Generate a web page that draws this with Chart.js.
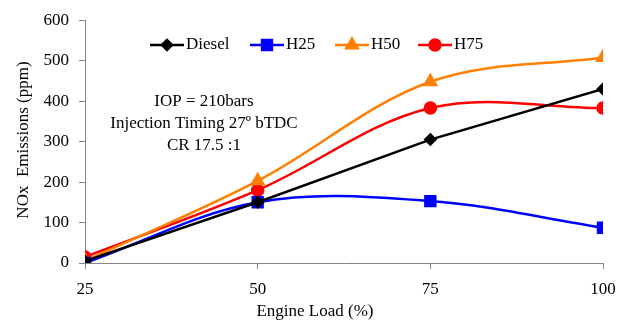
<!DOCTYPE html>
<html>
<head>
<meta charset="utf-8">
<script src="https://cdn.jsdelivr.net/npm/chart.js@4"></script>
<style>
  html, body { margin: 0; padding: 0; background: #fff; }
  #wrap { width: 623px; height: 322px; position: relative; }
</style>
</head>
<body>
<div id="wrap"><canvas id="chartNox"></canvas></div>
<script>
// ===============================
// DATA
// ===============================
const loads   = [25, 50, 75, 100];
const xTicks  = [25, 50, 75, 100];
const yTicks  = [0, 100, 200, 300, 400, 500, 600];

const diesel = [5, 150, 305, 430];
const h25    = [0, 150, 153, 87];
const h50    = [5, 203, 448, 508];
const h75    = [15, 180, 383, 383];

const noteLines = ["IOP = 210bars", "Injection Timing 27º bTDC", "CR 17.5 :1"];

const FONT = '"Liberation Serif", "Times New Roman", serif';
const FSIZE = 17;

// ===============================
// HELPERS
// ===============================
function pts(arr) {
  return loads.map((x, i) => ({ x: x, y: arr[i] }));
}

function series(label, arr, color, style, radius, tension) {
  return {
    label: label,
    data: pts(arr),
    borderColor: color,
    backgroundColor: color,
    pointBackgroundColor: color,
    pointBorderColor: color,
    pointStyle: style,
    pointRadius: radius,
    pointHoverRadius: radius,
    borderWidth: 2.5,
    tension: tension
  };
}

// legend + notes + axis titles drawn like the original sheet
const sheetText = {
  id: "sheetText",
  afterDraw(chart) {
    const ctx = chart.ctx;
    ctx.save();
    ctx.font = FSIZE + "px " + FONT;
    ctx.fillStyle = "#000";
    ctx.textBaseline = "middle";

    // legend
    const legendPos = [150, 250, 335, 418];
    const legendY = 45;
    chart.data.datasets.forEach((ds, i) => {
      const x0 = legendPos[i];
      ctx.strokeStyle = ds.borderColor;
      ctx.lineWidth = 2.5;
      ctx.beginPath();
      ctx.moveTo(x0, legendY);
      ctx.lineTo(x0 + 34, legendY);
      ctx.stroke();
      ctx.fillStyle = ds.borderColor;
      Chart.helpers.drawPoint(ctx, {
        pointStyle: ds.pointStyle,
        radius: ds.pointRadius,
        rotation: 0,
        borderWidth: 1
      }, x0 + 17, legendY);
      ctx.fillStyle = "#000";
      ctx.textAlign = "left";
      ctx.fillText(ds.label, x0 + 36, legendY);
    });

    // notes
    ctx.textAlign = "center";
    noteLines.forEach((t, i) => {
      ctx.fillText(t, 204, 102 + i * 22);
    });

    // x title
    ctx.fillText("Engine Load (%)", 315, 312);

    // y title
    ctx.translate(24, 140);
    ctx.rotate(-Math.PI / 2);
    ctx.fillText("NOx  Emissions (ppm)", 0, 0);
    ctx.restore();
  }
};

// ===============================
// CHART
// ===============================
const chartNox = new Chart(document.getElementById("chartNox"), {
  type: "line",
  data: {
    datasets: [
      series("Diesel", diesel, "#000000", "rectRot", 5, 0),
      series("H25", h25, "#0000ff", "rect", 7, 0.35),
      series("H50", h50, "#ff7f00", "triangle", 6.5, 0.35),
      series("H75", h75, "#ff0000", "circle", 5.5, 0.35)
    ]
  },
  options: {
    responsive: true,
    maintainAspectRatio: false,
    animation: false,
    layout: { padding: { left: 0, top: 18, right: 20, bottom: 0 } },
    plugins: {
      legend: { display: false },
      tooltip: { enabled: false }
    },
    scales: {
      x: {
        type: "linear",
        min: 25,
        max: 100,
        afterBuildTicks: s => { s.ticks = xTicks.map(v => ({ value: v })); },
        afterFit: s => { s.height = 59; s.paddingRight = 0; },
        border: { color: "#868686", width: 1 },
        grid: { drawOnChartArea: false, tickLength: 6, color: "#868686" },
        ticks: { color: "#000", padding: 10, font: { family: FONT, size: FSIZE } }
      },
      y: {
        min: 0,
        max: 600,
        afterBuildTicks: s => { s.ticks = yTicks.map(v => ({ value: v })); },
        afterFit: s => { s.width = 85; },
        border: { color: "#868686", width: 1 },
        grid: { drawOnChartArea: false, tickLength: 6, color: "#868686" },
        ticks: { color: "#000", padding: 10, font: { family: FONT, size: FSIZE } }
      }
    }
  },
  plugins: [sheetText]
});
</script>
</body>
</html>
